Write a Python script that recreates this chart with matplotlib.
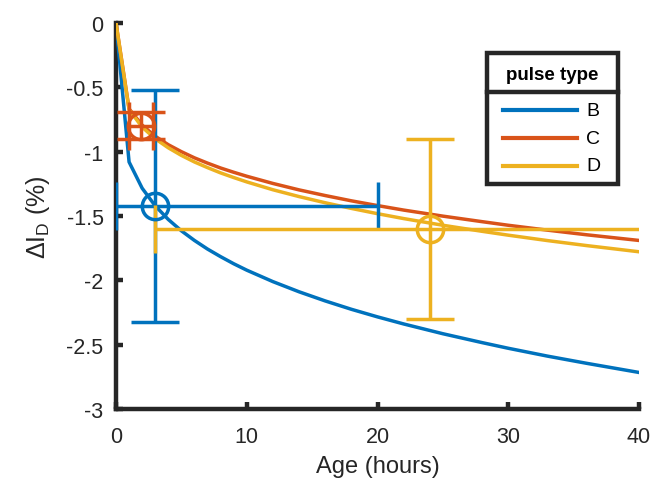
import numpy as np
import matplotlib
matplotlib.use('Agg')
import matplotlib.pyplot as plt
from matplotlib.patches import Rectangle
from matplotlib.lines import Line2D

plt.rcParams['font.family'] = ['Liberation Sans', 'DejaVu Sans']
plt.rcParams['axes.unicode_minus'] = False

# aging curves, hours vs Delta I_D (%)
hours = [0, 1, 2, 3, 4, 5, 6, 7, 8, 9, 10, 12, 14, 16, 18, 20, 22, 25, 28, 30, 33, 36, 40]
curve_B = [0, -1.080, -1.284, -1.421, -1.527, -1.615, -1.690, -1.757, -1.816, -1.871, -1.921,
           -2.010, -2.089, -2.160, -2.225, -2.284, -2.339, -2.415, -2.484, -2.528, -2.589, -2.645, -2.716]
curve_C = [0, -0.667, -0.794, -0.880, -0.946, -1.000, -1.048, -1.089, -1.127, -1.160, -1.191,
           -1.247, -1.297, -1.341, -1.382, -1.419, -1.454, -1.501, -1.544, -1.572, -1.610, -1.646, -1.690]
curve_D = [0, -0.674, -0.809, -0.900, -0.970, -1.029, -1.080, -1.124, -1.165, -1.201, -1.235,
           -1.296, -1.349, -1.397, -1.441, -1.482, -1.520, -1.572, -1.619, -1.649, -1.691, -1.730, -1.778]

# measured points with error bars: x, y, [x-, x+], [y-, y+]
pt_B = (3.0, -1.42, [3.0, 17.0], [0.90, 0.90])
pt_C = (1.95, -0.80, [0.95, 0.9], [0.105, 0.105])
pt_D = (24.0, -1.60, [21.0, 21.0], [0.70, 0.70])

labels = ['B', 'C', 'D']
colors = ['#0072BD', '#D95319', '#EDB120']
dark = '#262626'
lw = 2.5

fig = plt.figure(figsize=(6.65, 4.89), dpi=100)
ax = fig.add_axes([116/665, 1-410/489, (639-116)/665, (410-24)/489])

for y, c, lab in zip([curve_B, curve_C, curve_D], colors, labels):
    ax.plot(hours, y, color=c, lw=lw, label=lab, zorder=2)

for (x, y, xe, ye), c in zip([pt_B, pt_C, pt_D], colors):
    ax.errorbar(x, y, xerr=[[xe[0]], [xe[1]]], yerr=[[ye[0]], [ye[1]]],
                fmt='o', color=c, mfc='none', mec=c, ms=19, mew=lw,
                elinewidth=lw, capsize=17, capthick=lw, zorder=3)

ax.set_xlim(0, 40)
ax.set_ylim(-3, 0)
ax.set_xticks([0, 10, 20, 30, 40])
ax.set_yticks([0, -0.5, -1, -1.5, -2, -2.5, -3])
ax.set_yticklabels(['0', '-0.5', '-1', '-1.5', '-2', '-2.5', '-3'])
for s in ['top', 'right']:
    ax.spines[s].set_visible(False)
for s in ['left', 'bottom']:
    ax.spines[s].set_linewidth(3.2)
    ax.spines[s].set_color(dark)
    ax.spines[s].set_capstyle('projecting')
    ax.spines[s].set_zorder(1)
ax.tick_params(direction='in', length=5, width=3.2, color=dark,
               labelsize=15.5, labelcolor=dark)
ax.tick_params(axis='x', pad=12)
ax.tick_params(axis='y', pad=9)
ax.set_xlabel('Age (hours)', fontsize=17, color=dark, labelpad=6)
ax.set_ylabel('Δ' + r'I$_\mathregular{D}$ (%)', fontsize=18, color=dark, labelpad=10)

# legend box with title section
x0, x1 = 487/665, 618/665
y_top, y_mid, y_bot = 1-54/489, 1-93/489, 1-185/489
fig.patches.append(Rectangle((x0, y_bot), x1-x0, y_top-y_bot, transform=fig.transFigure,
                             fill=True, facecolor='white', edgecolor=dark, lw=3.2, zorder=5))
fig.lines.append(Line2D([x0, x1], [y_mid, y_mid], transform=fig.transFigure,
                        color=dark, lw=3.2, zorder=6))
fig.text((x0+x1)/2, 1-75/489, 'pulse type', ha='center', va='center',
         fontsize=13.5, fontweight='bold', color='black', zorder=7)
entry_y = [111, 139, 167]
for c, lab, py in zip(colors, labels, entry_y):
    fig.lines.append(Line2D([503/665, 577/665], [1-py/489, 1-py/489], transform=fig.transFigure,
                            color=c, lw=3, zorder=7))
    fig.text(586/665, 1-py/489, lab, ha='left', va='center', fontsize=14,
             color='black', zorder=7)

fig.savefig('out.png', dpi=100)
